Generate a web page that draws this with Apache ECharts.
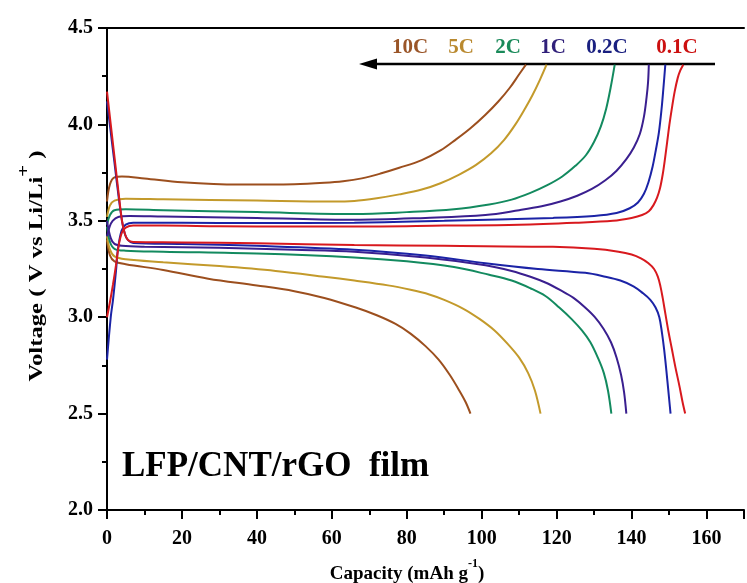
<!DOCTYPE html>
<html>
<head>
<meta charset="utf-8">
<script src="https://cdn.jsdelivr.net/npm/echarts@6/dist/echarts.min.js"></script>
<style>html,body{margin:0;padding:0;background:#fff;}#c{width:747px;height:583px;}</style>
</head>
<body>
<div id="c"></div>
<script>
// ---- data (capacity mAh/g, voltage V) ----
const rates = ['10C', '5C', '2C', '1C', '0.2C', '0.1C'];
const xTicks = [0, 20, 40, 60, 80, 100, 120, 140, 160];
const yTicks = [2.0, 2.5, 3.0, 3.5, 4.0, 4.5];

const charge10C = [[0,3.60],[0.8,3.69],[2,3.725],[4,3.73],[10,3.72],[20,3.70],[35,3.688],[50,3.69],[58,3.697],[63,3.705],[68,3.72],[73,3.745],[78,3.775],[84,3.815],[89,3.865],[93,3.92],[97,3.98],[101,4.05],[104.5,4.12],[107.5,4.19],[110,4.26],[111.8,4.31]];
const discharge10C = [[0,3.40],[0.8,3.32],[2,3.29],[5,3.275],[15,3.245],[27,3.20],[40,3.165],[50,3.135],[58,3.10],[66.4,3.05],[72,3.01],[77,2.965],[81,2.915],[85,2.85],[88.5,2.78],[91.5,2.70],[94,2.62],[95.7,2.56],[97,2.50]];

const charge5C = [[0,3.52],[0.8,3.58],[2,3.605],[5,3.615],[15,3.612],[40,3.605],[60,3.60],[66,3.603],[72,3.617],[78,3.637],[84,3.662],[89,3.695],[94,3.74],[98.5,3.79],[102.5,3.85],[106,3.92],[109,4.0],[111.5,4.08],[113.5,4.15],[115.5,4.23],[117.3,4.31]];
const discharge5C = [[0,3.42],[0.8,3.35],[2,3.315],[5,3.30],[15,3.285],[30,3.265],[45,3.24],[58,3.21],[66,3.19],[75,3.165],[81,3.142],[86,3.118],[90,3.09],[95,3.045],[99.5,2.99],[103.5,2.93],[107,2.86],[110,2.79],[112.4,2.71],[114.2,2.62],[115.7,2.50]];

const charge2C = [[0,3.48],[0.8,3.53],[2,3.555],[5,3.56],[15,3.555],[40,3.545],[66,3.535],[80,3.545],[92.6,3.56],[102,3.585],[108,3.61],[113,3.645],[117.5,3.685],[121.5,3.73],[125,3.785],[127.8,3.84],[130,3.91],[131.8,3.99],[133.2,4.08],[134.4,4.19],[135.5,4.31]];
const discharge2C = [[0,3.47],[0.8,3.39],[2,3.355],[5,3.345],[15,3.34],[40,3.33],[66,3.31],[80,3.29],[92.6,3.26],[102,3.22],[108,3.19],[113,3.15],[117,3.11],[120.7,3.05],[124,2.99],[126.8,2.93],[129,2.87],[131,2.79],[132.6,2.71],[133.7,2.62],[134.6,2.50]];

const charge1C = [[0,3.42],[0.7,3.47],[1.5,3.50],[3,3.52],[6,3.525],[15,3.522],[40,3.515],[66,3.505],[85,3.515],[101,3.53],[110,3.555],[116,3.575],[121,3.60],[125.5,3.63],[129.4,3.665],[133,3.71],[136,3.76],[138.6,3.82],[140.6,3.88],[142.2,3.95],[143.3,4.04],[144,4.14],[144.4,4.22],[144.6,4.31]];
const discharge1C = [[0,3.50],[1,3.41],[2,3.38],[4,3.37],[10,3.365],[30,3.36],[50,3.35],[66,3.34],[85,3.31],[101,3.27],[108,3.24],[113,3.21],[117,3.18],[121,3.14],[124.5,3.10],[127.6,3.05],[130.2,3.0],[132.5,2.94],[134.5,2.87],[136,2.79],[137.2,2.70],[138,2.61],[138.6,2.50]];

const charge02C = [[0,2.78],[1,3.0],[1.6,3.09],[2.4,3.24],[2.9,3.35],[3.9,3.45],[5,3.48],[7,3.49],[20,3.49],[40,3.488],[66,3.49],[90,3.50],[119,3.515],[130,3.525],[136,3.54],[139.5,3.565],[141.7,3.595],[143.3,3.64],[144.5,3.70],[145.6,3.78],[146.5,3.87],[147.3,3.96],[148,4.08],[148.5,4.19],[149,4.31]];
const discharge02C = [[0,4.12],[1,3.96],[2,3.80],[3,3.64],[4,3.50],[4.8,3.43],[5.6,3.40],[7,3.385],[20,3.38],[40,3.37],[66,3.35],[85,3.32],[101,3.28],[115,3.25],[127.6,3.23],[133,3.21],[137,3.19],[140.5,3.16],[143,3.125],[145,3.09],[146.4,3.05],[147.4,3.0],[148.1,2.92],[148.7,2.83],[149.3,2.72],[149.8,2.62],[150.4,2.50]];

const charge01C = [[0,3.00],[0.8,3.08],[1.6,3.17],[2.4,3.27],[3.2,3.38],[4,3.44],[5,3.465],[7,3.475],[15,3.475],[30,3.472],[50,3.47],[66,3.47],[90,3.475],[110,3.48],[125,3.49],[135,3.50],[140,3.515],[142.8,3.53],[144.6,3.55],[145.8,3.58],[146.8,3.62],[147.6,3.67],[148.3,3.74],[148.9,3.82],[149.5,3.91],[150.1,4.0],[150.8,4.09],[151.5,4.17],[152.3,4.24],[153,4.28],[153.8,4.31]];
const discharge01C = [[0,4.17],[1,4.00],[2,3.83],[3,3.66],[4,3.50],[4.8,3.43],[5.6,3.40],[7,3.39],[20,3.388],[40,3.383],[66,3.375],[90,3.37],[119,3.365],[130,3.355],[136.5,3.34],[140,3.325],[142.5,3.305],[144.5,3.28],[146,3.25],[147,3.21],[147.7,3.16],[148.3,3.10],[149,3.02],[149.8,2.93],[150.7,2.84],[151.7,2.74],[152.8,2.64],[153.6,2.56],[154.3,2.50]];

const chargeSets = [charge10C, charge5C, charge2C, charge1C, charge02C, charge01C];
const dischargeSets = [discharge10C, discharge5C, discharge2C, discharge1C, discharge02C, discharge01C];

// ---- styling ----
const lineColors = ['#9c4f1e', '#c39a2b', '#138a5f', '#3a1f8f', '#1b23a6', '#d8191e'];
const labelColors = ['#9a5528', '#b9892f', '#1a8a5a', '#30207a', '#1a2080', '#cc1010'];
const labelX = [410, 461, 508, 553, 607, 677];
const FONT = '"Liberation Serif", "Times New Roman", serif';

const series = [];
rates.forEach((r, i) => {
  [['charge', chargeSets[i]], ['discharge', dischargeSets[i]]].forEach(([kind, d]) => {
    series.push({
      name: r + ' ' + kind,
      type: 'line',
      data: d,
      showSymbol: false,
      smooth: 0.35,
      lineStyle: { color: lineColors[i], width: 2 },
      itemStyle: { color: lineColors[i] },
      silent: true,
      animation: false
    });
  });
});

const graphics = [];
rates.forEach((r, i) => {
  graphics.push({
    type: 'text', x: labelX[i], y: 48,
    style: { text: r, font: 'bold 21px ' + FONT, fill: labelColors[i], align: 'center', verticalAlign: 'middle' }
  });
});
graphics.push({ type: 'line', shape: { x1: 715, y1: 64, x2: 372, y2: 64 }, style: { stroke: '#000', lineWidth: 2.5 } });
graphics.push({ type: 'polygon', shape: { points: [[359, 64], [377, 58.5], [377, 69.5]] }, style: { fill: '#000' } });
graphics.push({
  type: 'text', x: 122, y: 467,
  style: { text: 'LFP/CNT/rGO  film', font: 'bold 35px ' + FONT, fill: '#000', align: 'left', verticalAlign: 'middle' }
});
graphics.push({
  type: 'text', x: 407, y: 571,
  style: {
    text: '{t|Capacity (mAh g}{s|-1}{t|)}',
    align: 'center', verticalAlign: 'middle',
    rich: {
      t: { font: 'bold 19px ' + FONT, fill: '#000', lineHeight: 26, verticalAlign: 'bottom' },
      s: { font: 'bold 12px ' + FONT, fill: '#000', lineHeight: 26, verticalAlign: 'top' }
    }
  }
});
graphics.push({
  type: 'text', x: 32, y: 266, rotation: Math.PI / 2, scaleX: 1.3, scaleY: 1,
  style: {
    text: '{t|Voltage ( V vs Li/Li}{s|+}{t| )}',
    align: 'center', verticalAlign: 'middle',
    rich: {
      t: { font: 'bold 19px ' + FONT, fill: '#000', lineHeight: 30, verticalAlign: 'bottom' },
      s: { font: 'bold 16px ' + FONT, fill: '#000', lineHeight: 30, verticalAlign: 'top' }
    }
  }
});

const axisLabelStyle = { color: '#000', fontFamily: FONT, fontWeight: 'bold', fontSize: 20 };

const chart = echarts.init(document.getElementById('c'), null, { renderer: 'canvas' });
chart.setOption({
  animation: false,
  backgroundColor: '#fff',
  grid: { left: 107, top: 28, width: 648, height: 482 },
  xAxis: [{
    type: 'value', min: 0, max: 170, interval: 20,
    axisLine: { show: true, onZero: false, lineStyle: { color: '#000', width: 2 } },
    axisTick: { show: true, inside: false, length: 9, lineStyle: { color: '#000', width: 2 } },
    minorTick: { show: true, splitNumber: 2, length: 5, lineStyle: { color: '#000', width: 2 } },
    splitLine: { show: false },
    axisLabel: Object.assign({ margin: 19, formatter: v => (xTicks.indexOf(v) >= 0 ? String(v) : '') }, axisLabelStyle)
  }, {
    type: 'value', min: 0, max: 170, position: 'top',
    axisLine: { show: true, onZero: false, lineStyle: { color: '#000', width: 2 } },
    axisTick: { show: false }, axisLabel: { show: false }, splitLine: { show: false }
  }],
  yAxis: {
    type: 'value', min: 2, max: 4.5, interval: 0.5,
    axisLine: { show: true, onZero: false, lineStyle: { color: '#000', width: 2 } },
    axisTick: { show: true, inside: false, length: 9, lineStyle: { color: '#000', width: 2 } },
    minorTick: { show: true, splitNumber: 2, length: 5, lineStyle: { color: '#000', width: 2 } },
    splitLine: { show: false },
    axisLabel: Object.assign({ margin: 14, formatter: v => v.toFixed(1) }, axisLabelStyle)
  },
  series: series,
  graphic: graphics
});
</script>
</body>
</html>
